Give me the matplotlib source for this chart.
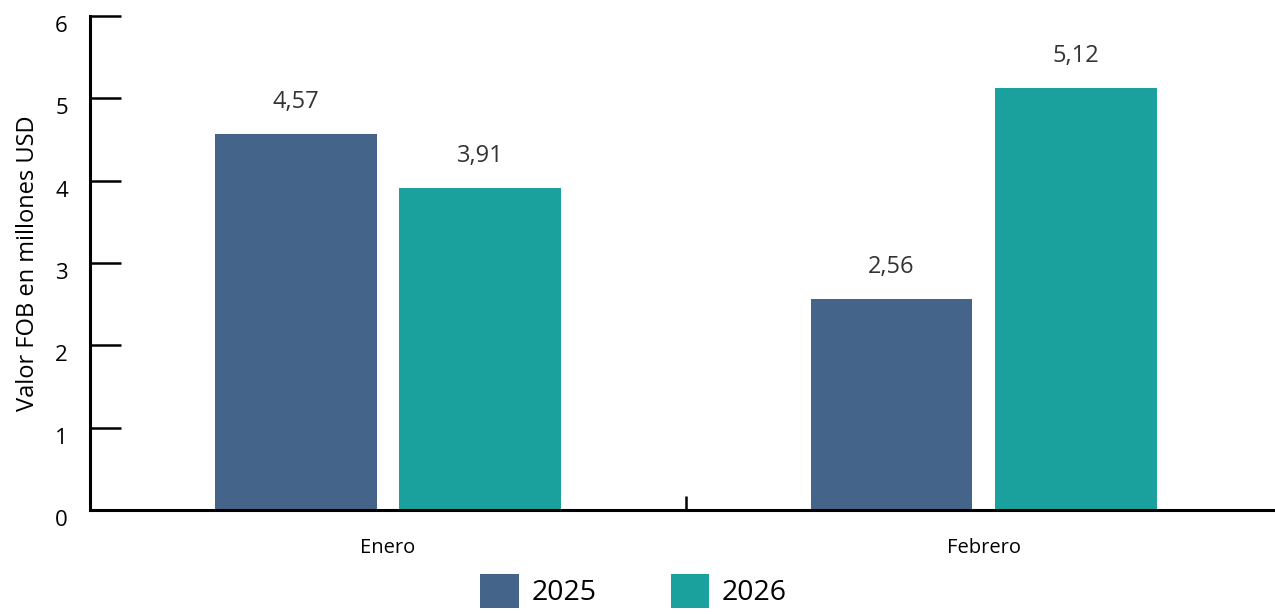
import numpy as np
import matplotlib.pyplot as plt
import matplotlib.transforms as mtransforms

plt.rcParams['font.family'] = ['Open Sans', 'DejaVu Sans']

# Data
meses = ['Enero', 'Febrero']
valores_2025 = [4.57, 2.56]
valores_2026 = [3.91, 5.12]
etiquetas_2025 = ['4,57', '2,56']
etiquetas_2026 = ['3,91', '5,12']

color_2025 = '#45648A'
color_2026 = '#1BA19D'

fig = plt.figure(figsize=(12.75, 6.14), dpi=100)
ax = fig.add_axes([0.0706, 0.1694, 0.93, 0.8046])

x = np.arange(len(meses))
ancho = 0.2716
desp = 0.155

b1 = ax.bar(x - desp, valores_2025, ancho, color=color_2025, label='2025')
b2 = ax.bar(x + desp, valores_2026, ancho, color=color_2026, label='2026')

# Value labels above bars
for barras, etiquetas in [(b1, etiquetas_2025), (b2, etiquetas_2026)]:
    for barra, etq in zip(barras, etiquetas):
        ax.annotate(etq, (barra.get_x() + barra.get_width() / 2, barra.get_height()),
                    xytext=(0, 23), textcoords='offset points',
                    ha='center', va='center', fontsize=17, color='#333333')

ax.set_xlim(-0.5, 1.49)
ax.set_ylim(0, 6)

# Spines
for s in ['top', 'right']:
    ax.spines[s].set_visible(False)
ax.spines['left'].set_linewidth(2.2)
ax.spines['bottom'].set_linewidth(2.2)

# Y axis
ax.set_yticks(range(7))
ax.tick_params(axis='y', direction='in', length=22, width=1.8, labelsize=16, pad=16)
ax.set_ylabel('Valor FOB en millones USD', fontsize=17, labelpad=11)
desplaza = mtransforms.ScaledTranslation(0, -8 / 100, fig.dpi_scale_trans)
for lbl in ax.get_yticklabels():
    lbl.set_transform(lbl.get_transform() + desplaza)

# X axis: category labels with boundary tick between them
ax.set_xticks(x)
ax.set_xticklabels(meses)
ax.tick_params(axis='x', which='major', length=0, labelsize=14.5, pad=20)
ax.set_xticks([0.5], minor=True)
ax.tick_params(axis='x', which='minor', direction='in', length=10, width=1.8)

# Legend at the bottom
fig.legend(handles=[b1, b2], loc='upper center', bbox_to_anchor=(0.497, 0.065),
           ncol=2, frameon=False, fontsize=20.5, handlelength=1.35, handleheight=1.45,
           handletextpad=0.45, columnspacing=2.6, borderpad=0, borderaxespad=0)

plt.savefig('out.png', dpi=100)
